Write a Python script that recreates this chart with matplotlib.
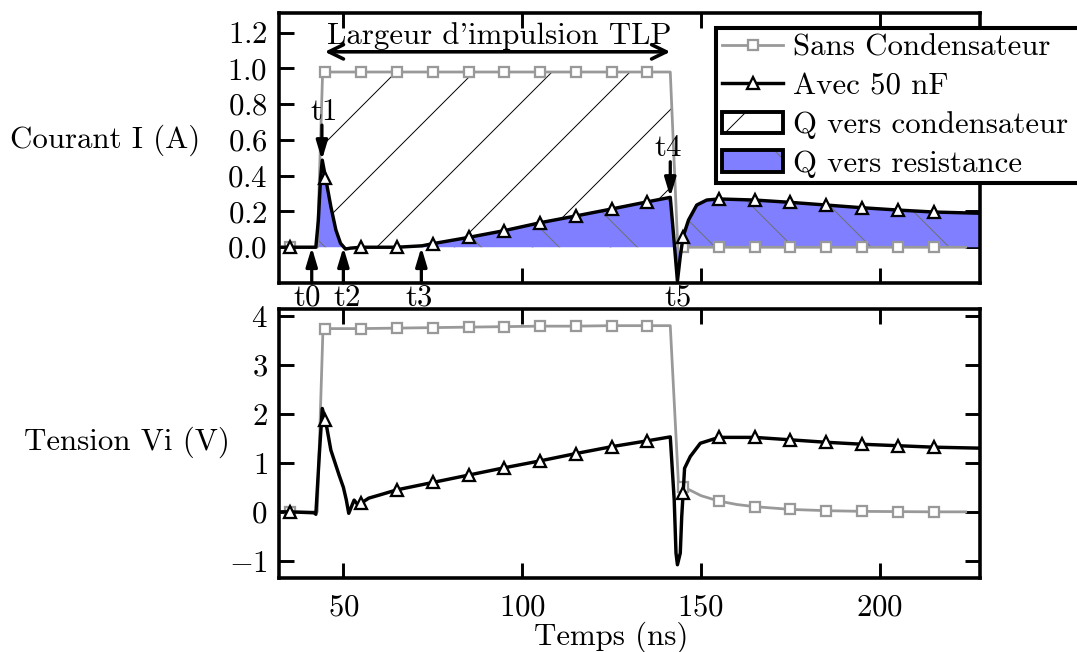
import numpy as np
import matplotlib
matplotlib.use("Agg")
import matplotlib.pyplot as plt
from matplotlib.patches import Patch, Rectangle
from matplotlib.lines import Line2D
from matplotlib.legend_handler import HandlerTuple

# ---- data (time in ns, current in A, voltage in V) ----
marker_times = [35, 45, 55, 65, 75, 85, 95, 105, 115, 125, 135,
                145, 155, 165, 175, 185, 195, 205, 215]

# current without capacitor
t_i_sans = [32, 35, 42.7, 44.2, 45, 55, 65, 75, 85, 95, 105, 115, 125, 135,
            141.4, 143.5, 145, 155, 165, 175, 185, 195, 205, 215, 224]
i_sans = [0.0, 0.0, 0.0, 0.98, 0.98, 0.98, 0.98, 0.98, 0.98, 0.98, 0.98, 0.98,
          0.98, 0.98, 0.98, 0.0, 0.0, 0.0, 0.0, 0.0, 0.0, 0.0, 0.0, 0.0, 0.0]

# current with 50 nF
t_i_avec = [32, 35, 42.3, 43.0, 43.6, 44.1, 45, 46.5, 47.9, 49.2, 50.6, 52,
            55, 65, 72, 75, 85, 95, 105, 115, 125, 135, 141.4, 142.4, 143.4,
            144.2, 145, 146.5, 148.8, 151.6, 155, 165, 175, 185, 195, 205,
            215, 228]
i_avec = [0.0, 0.0, 0.0, 0.15, 0.38, 0.487, 0.39, 0.227, 0.097, 0.022, -0.01,
          -0.005, 0.0, 0.0, 0.008, 0.02, 0.055, 0.093, 0.137, 0.175, 0.214,
          0.254, 0.279, 0.05, -0.19, -0.05, 0.06, 0.152, 0.236, 0.264, 0.27,
          0.264, 0.251, 0.236, 0.221, 0.208, 0.197, 0.19]

# voltage without capacitor
t_v_sans = [32, 35, 42.7, 44.3, 45, 55, 65, 75, 85, 95, 105, 115, 125, 135,
            141.4, 143.7, 145, 147, 150, 155, 160, 165, 175, 185, 195, 205,
            215, 224]
v_sans = [0.0, 0.0, 0.0, 3.74, 3.74, 3.74, 3.75, 3.76, 3.77, 3.78, 3.79, 3.79,
          3.80, 3.80, 3.80, 0.56, 0.51, 0.44, 0.33, 0.22, 0.15, 0.106, 0.05,
          0.024, 0.01, 0.005, 0.0, 0.0]

# voltage with 50 nF
t_v_avec = [32, 35, 42, 42.3, 43.3, 44.1, 45, 46.5, 48.8, 50.0, 50.8, 51.5,
            53, 54.1, 55, 57.1, 60.4, 65, 75, 85, 95, 105, 115, 125, 135,
            141.4, 142.5, 143, 143.4, 144.2, 144.6, 145, 145.4, 147, 149.8,
            155, 165, 175, 185, 195, 205, 215, 228]
v_avec = [0.0, 0.0, -0.02, -0.05, 1.2, 2.11, 1.87, 1.26, 0.75, 0.5, 0.25,
          -0.03, 0.24, 0.14, 0.18, 0.28, 0.35, 0.45, 0.6, 0.75, 0.9, 1.04,
          1.19, 1.33, 1.45, 1.53, 0.24, -0.84, -1.08, -0.84, -0.1, 0.39, 0.89,
          1.13, 1.40, 1.52, 1.52, 1.47, 1.42, 1.38, 1.35, 1.32, 1.30]

current_ticks = [0.0, 0.2, 0.4, 0.6, 0.8, 1.0, 1.2]
voltage_ticks = [-1, 0, 1, 2, 3, 4]
time_ticks = [50, 100, 150, 200]

# event markers on the current plot
t_events_low = {"t0": 41.15, "t2": 50.0, "t3": 71.8}
event_labels_low = {"t0": 39.9, "t2": 51.1, "t3": 71.3, "t5": 143.5}

# ---- style ----
DPI = 234
plt.rcParams.update({
    "font.family": ["cmr10"],
    "mathtext.fontset": "cm",
    "axes.formatter.use_mathtext": True,
    "font.size": 9.5,
    "hatch.linewidth": 0.3,
    "axes.linewidth": 1.1,
    "xtick.direction": "in",
    "ytick.direction": "in",
    "xtick.major.size": 4.6,
    "ytick.major.size": 4.6,
    "xtick.major.width": 0.9,
    "ytick.major.width": 0.9,
    "xtick.major.pad": 5.0,
    "ytick.major.pad": 3.5,
})

GRAY = "#999999"
BLUE = "#7f7fff"
HATCH_GRAY = "#707070"

fig = plt.figure(figsize=(1077 / DPI, 652 / DPI), dpi=DPI)
W, H = 1077.0, 652.0
ax1 = fig.add_axes([279 / W, 1 - 283 / H, 701 / W, 270 / H])
ax2 = fig.add_axes([279 / W, 1 - 578 / H, 701 / W, 269 / H])


def mark_idx(ts):
    ts = np.asarray(ts, dtype=float)
    return [i for i, t in enumerate(ts) if np.any(np.isclose(t, marker_times))]


line_kw_sans = dict(color=GRAY, lw=0.85, marker="s", ms=3.1, mew=0.7,
                    mfc="white", mec=GRAY)
line_kw_avec = dict(color="black", lw=1.05, marker="^", ms=3.6, mew=0.7,
                    mfc="white", mec="black")

# ---- current panel ----
with plt.rc_context({"hatch.color": "black"}):
    ax1.fill_between(t_i_sans, 0, i_sans, facecolor="white", edgecolor="black",
                     hatch="/", linewidth=0, zorder=1)
with plt.rc_context({"hatch.color": HATCH_GRAY}):
    ax1.fill_between(t_i_avec, 0, i_avec, facecolor=BLUE, edgecolor=HATCH_GRAY,
                     hatch="\\", linewidth=0, zorder=2)

l_sans, = ax1.plot(t_i_sans, i_sans, markevery=mark_idx(t_i_sans), zorder=3,
                   **line_kw_sans)
l_avec, = ax1.plot(t_i_avec, i_avec, markevery=mark_idx(t_i_avec), zorder=4,
                   **line_kw_avec)

ax1.set_xlim(32, 228)
ax1.set_ylim(-0.2, 1.31)
ax1.set_xticks(time_ticks)
ax1.set_yticks(current_ticks)
ax1.tick_params(top=True, right=True, labelbottom=False)
ax1.set_ylabel("Courant I (A)", rotation=0, ha="right", va="center")
ax1.yaxis.set_label_coords(-0.1127, 0.527)

arrow_small = dict(arrowstyle="-|>,head_length=0.4,head_width=0.12",
                   color="black", lw=1.0, shrinkA=0, shrinkB=0,
                   mutation_scale=12)

# pulse width arrow
ax1.annotate("", xy=(44.8, 1.093), xytext=(141.4, 1.093),
             arrowprops=dict(arrowstyle="<->,head_length=0.45,head_width=0.22",
                             color="black", lw=1.1, shrinkA=0, shrinkB=0,
                             mutation_scale=10), zorder=6)
ax1.text(93.6, 1.139, "Largeur d'impulsion TLP", ha="center", va="baseline",
         zorder=6)

# t1 / t4 arrows from above
ax1.annotate("", xy=(44.0, 0.488), xytext=(44.0, 0.683),
             arrowprops=arrow_small, zorder=6)
ax1.text(44.5, 0.711, "t1", ha="center", va="baseline", zorder=6)
ax1.annotate("", xy=(141.4, 0.281), xytext=(141.4, 0.478),
             arrowprops=arrow_small, zorder=6)
ax1.text(140.7, 0.511, "t4", ha="center", va="baseline", zorder=6)

# t0, t2, t3 arrows from below
for name, tx in t_events_low.items():
    ax1.annotate("", xy=(tx, 0.0), xytext=(tx, -0.2),
                 arrowprops=arrow_small, zorder=6)
for name, tx in event_labels_low.items():
    ax1.text(tx, -0.328, name, ha="center", va="baseline", clip_on=False,
             zorder=6)

# ---- voltage panel ----
ax2.plot(t_v_sans, v_sans, markevery=mark_idx(t_v_sans), zorder=3,
         **line_kw_sans)
ax2.plot(t_v_avec, v_avec, markevery=mark_idx(t_v_avec), zorder=4,
         **line_kw_avec)
ax2.set_xlim(32, 228)
ax2.set_ylim(-1.35, 4.14)
ax2.set_xticks(time_ticks)
ax2.set_yticks(voltage_ticks)
ax2.tick_params(top=True, right=True)
ax2.set_ylabel("Tension Vi (V)", rotation=0, ha="right", va="center")
ax2.yaxis.set_label_coords(-0.0699, 0.506)
ax2.set_xlabel("Temps (ns)", ha="center", va="center")
ax2.xaxis.set_label_coords(0.4736, -0.219)

# ---- legend: box open on the right, running off the figure edge ----
box_left, box_top, box_bottom = 716 / W, 1 - 27.7 / H, 1 - 182.7 / H
fig.add_artist(Rectangle((box_left, box_bottom), 1.2 - box_left,
                         box_top - box_bottom, transform=fig.transFigure,
                         facecolor="white", edgecolor="none", zorder=1))
fig.add_artist(Line2D([1.2, box_left, box_left, 1.2],
                      [box_top, box_top, box_bottom, box_bottom],
                      transform=fig.transFigure, color="black", lw=1.25,
                      solid_joinstyle="miter", zorder=6))

h_cond = Patch(facecolor="white", edgecolor="black", hatch="/", linewidth=1.2)
h_res = (Patch(facecolor=BLUE, edgecolor=HATCH_GRAY, hatch="\\", linewidth=0),
         Patch(facecolor="none", edgecolor="black", linewidth=1.2))
leg = fig.legend([l_sans, l_avec, h_cond, h_res],
                 ["Sans Condensateur", "Avec 50 nF", "Q vers condensateur",
                  "Q vers resistance"],
                 handler_map={tuple: HandlerTuple(ndivide=1, pad=0)},
                 loc="upper left", bbox_to_anchor=(box_left, box_top),
                 bbox_transform=fig.transFigure, borderaxespad=0,
                 frameon=False, borderpad=0.2, handlelength=1.98,
                 handletextpad=0.3, labelspacing=0.36, numpoints=1)
leg.set_zorder(5)

fig.savefig("out.png", dpi=DPI)
